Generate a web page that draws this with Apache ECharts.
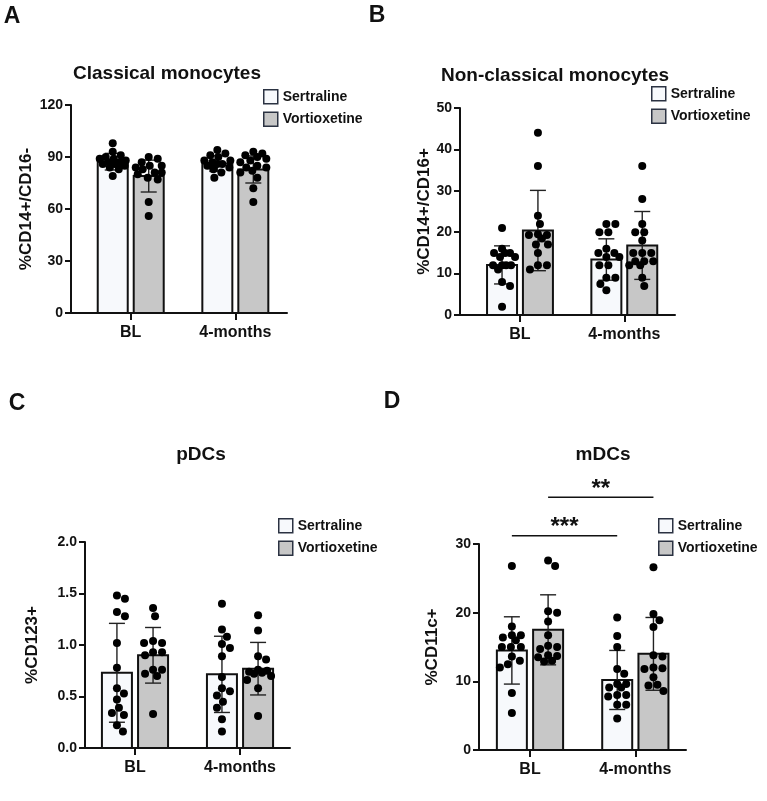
<!DOCTYPE html>
<html lang="en">
<head>
<meta charset="UTF-8">
<title>Monocytes and dendritic cells</title>
<style>
  html, body { margin: 0; padding: 0; background: #fff; }
  #chart { width: 767px; height: 801px; }
</style>
</head>
<body>
<div id="chart"></div>
<script src="https://cdn.jsdelivr.net/npm/echarts@6.0.0/dist/echarts.min.js"></script>
<script>
const categories = ['BL', '4-months'];
const groups = ['Sertraline', 'Vortioxetine'];

// A - classical monocytes
const classicalSertBL = [98, 93, 91, 90, 89, 89, 88, 87, 87, 86, 86, 85, 84, 83, 79];
const classicalSert4m = [94, 92, 91, 90, 88, 88, 87, 86, 86, 85, 84, 83, 81, 78];
const classicalVortBL = [90, 89, 87, 85, 85, 84, 83, 81, 81, 80, 78, 77, 64, 56];
const classicalVort4m = [93, 92, 91, 90, 89, 88, 87, 85, 84, 84, 82, 81, 78, 72, 64];
const classicalSertMean = [87.3, 86.2];
const classicalSertSD = [4.8, 4.5];
const classicalVortMean = [79.0, 82.8];
const classicalVortSD = [9.2, 7.8];

// B - non-classical monocytes
const nonClassicalSertBL = [21, 16, 15, 15, 15, 14, 14, 12, 12, 12, 12, 11, 8, 7, 2];
const nonClassicalSert4m = [22, 22, 20, 20, 16, 15, 15, 14, 14, 12, 12, 9, 9, 7.5, 6];
const nonClassicalVortBL = [44, 36, 24, 22, 19.5, 19.3, 19.3, 18.5, 17, 17, 15, 12, 12, 11];
const nonClassicalVort4m = [36, 28, 22, 20, 20, 18, 15, 15, 15, 13, 13, 13, 12, 12, 9, 7];
const nonClassicalSertMean = [12.1, 13.4];
const nonClassicalSertSD = [4.6, 5.0];
const nonClassicalVortMean = [20.4, 16.8];
const nonClassicalVortSD = [9.7, 8.2];

// C - pDCs
const pdcSertBL = [1.48, 1.45, 1.32, 1.28, 1.02, 0.78, 0.58, 0.53, 0.47, 0.39, 0.34, 0.32, 0.22, 0.16];
const pdcSert4m = [1.40, 1.15, 1.08, 1.01, 0.97, 0.89, 0.69, 0.58, 0.55, 0.51, 0.45, 0.39, 0.28, 0.16];
const pdcVortBL = [1.36, 1.28, 1.04, 1.02, 1.02, 0.93, 0.93, 0.90, 0.76, 0.76, 0.72, 0.70, 0.33];
const pdcVort4m = [1.29, 1.14, 0.89, 0.86, 0.76, 0.75, 0.74, 0.73, 0.72, 0.70, 0.66, 0.58, 0.31];
const pdcSertMean = [0.73, 0.715];
const pdcSertSD = [0.48, 0.37];
const pdcVortMean = [0.90, 0.77];
const pdcVortSD = [0.27, 0.255];

// D - mDCs
const mdcSertBL = [26.8, 18.0, 16.7, 16.7, 16.4, 16.0, 15.0, 15.0, 15.0, 13.6, 13.0, 12.5, 12.0, 8.3, 5.4];
const mdcSert4m = [19.3, 16.6, 15.0, 11.8, 11.1, 9.6, 9.6, 9.1, 9.1, 8.0, 8.0, 7.8, 6.6, 6.6, 4.6];
const mdcVortBL = [27.6, 26.8, 20.2, 20.0, 18.7, 16.7, 15.2, 15.0, 14.7, 13.8, 13.7, 13.5, 13.0, 12.9];
const mdcVort4m = [26.6, 19.8, 18.9, 17.9, 13.8, 13.6, 12.0, 11.9, 11.8, 10.6, 9.5, 9.4, 8.6];
const mdcSertMean = [14.5, 10.2];
const mdcSertSD = [4.9, 4.3];
const mdcVortMean = [17.5, 14.0];
const mdcVortSD = [5.1, 5.3];
// BL vs 4-months comparisons
const mdcSigGroup = ['Sertraline', 'Vortioxetine'];
const mdcSigLevel = [31.2, 36.8];
const mdcSigLabel = ['***', '**'];

const FONT = "'Liberation Sans', Arial, sans-serif";
const INK = '#111';
const FILLS = { Sertraline: '#f7f9fc', Vortioxetine: '#c7c7c7' };
const GROUP_OFFSET = { Sertraline: -0.172, Vortioxetine: 0.172 };
const DOT = 8;

const panels = [
  {
    letter: 'A', letterPos: [12, 17], title: 'Classical monocytes', titlePos: [167, 74],
    yName: '%CD14+/CD16-', yMax: 120, yStep: 30, decimals: 0, nameGap: 36,
    grid: { left: 71, top: 105, width: 216, height: 208 }, xMin: -0.571, xMax: 1.494,
    legend: [263, 89],
    dots: { Sertraline: [classicalSertBL, classicalSert4m], Vortioxetine: [classicalVortBL, classicalVort4m] },
    mean: { Sertraline: classicalSertMean, Vortioxetine: classicalVortMean },
    sd: { Sertraline: classicalSertSD, Vortioxetine: classicalVortSD }
  },
  {
    letter: 'B', letterPos: [377, 16], title: 'Non-classical monocytes', titlePos: [555, 76],
    yName: '%CD14+/CD16+', yMax: 50, yStep: 10, decimals: 0, nameGap: 26,
    grid: { left: 460, top: 108, width: 215, height: 207 }, xMin: -0.575, xMax: 1.486,
    legend: [651, 86],
    dots: { Sertraline: [nonClassicalSertBL, nonClassicalSert4m], Vortioxetine: [nonClassicalVortBL, nonClassicalVort4m] },
    mean: { Sertraline: nonClassicalSertMean, Vortioxetine: nonClassicalVortMean },
    sd: { Sertraline: nonClassicalSertSD, Vortioxetine: nonClassicalVortSD }
  },
  {
    letter: 'C', letterPos: [17, 404], title: 'pDCs', titlePos: [201, 455],
    yName: '%CD123+', yMax: 2, yStep: 0.5, decimals: 1, nameGap: 44,
    grid: { left: 85, top: 542, width: 205, height: 206 }, xMin: -0.476, xMax: 1.476,
    legend: [278, 518],
    dots: { Sertraline: [pdcSertBL, pdcSert4m], Vortioxetine: [pdcVortBL, pdcVort4m] },
    mean: { Sertraline: pdcSertMean, Vortioxetine: pdcVortMean },
    sd: { Sertraline: pdcSertSD, Vortioxetine: pdcVortSD }
  },
  {
    letter: 'D', letterPos: [392, 402], title: 'mDCs', titlePos: [603, 455],
    yName: '%CD11c+', yMax: 30, yStep: 10, decimals: 0, nameGap: 38,
    grid: { left: 479, top: 544, width: 207, height: 206 }, xMin: -0.484, xMax: 1.481,
    legend: [658, 518],
    dots: { Sertraline: [mdcSertBL, mdcSert4m], Vortioxetine: [mdcVortBL, mdcVort4m] },
    mean: { Sertraline: mdcSertMean, Vortioxetine: mdcVortMean },
    sd: { Sertraline: mdcSertSD, Vortioxetine: mdcVortSD },
    // line from the BL bar to the 4-months bar of the same drug
    sig: mdcSigGroup.map((g, k) => [GROUP_OFFSET[g], 1 + GROUP_OFFSET[g], mdcSigLevel[k]])
  }
];

// simple beeswarm: spread dots sideways so they don't pile up
function swarm(values, center, pxPerUnit, pxPerBand) {
  const placed = [];
  const maxOff = 13;
  return values.map(v => {
    const y = v * pxPerUnit;
    let pick = null, bestDx = 0, bestGap = -1;
    for (let k = 0; k <= maxOff * 2; k++) {
      const dx = (k % 2 ? 1 : -1) * Math.ceil(k / 2);
      const gap = placed.length ? Math.min(...placed.map(q => Math.hypot(q.x - dx, q.y - y))) : Infinity;
      if (gap >= DOT * 1.05) { pick = dx; break; }
      if (gap > bestGap) { bestGap = gap; bestDx = dx; }
    }
    if (pick === null) pick = bestDx;
    placed.push({ x: pick, y: y });
    return [center + pick / pxPerBand, v];
  });
}

function barItem(params, api) {
  const x = api.value(0), m = api.value(1);
  const top = api.coord([x, m]);
  const base = api.coord([x, 0]);
  return {
    type: 'rect',
    shape: { x: top[0] - 15, y: top[1], width: 30, height: base[1] - top[1] },
    style: { fill: api.visual('color'), stroke: INK, lineWidth: 2 }
  };
}

function errorItem(params, api) {
  const x = api.value(0), m = api.value(1), s = api.value(2);
  const hi = api.coord([x, m + s]);
  const lo = api.coord([x, m - s]);
  const st = { stroke: '#222', lineWidth: 1.4 };
  return {
    type: 'group',
    children: [
      { type: 'line', shape: { x1: hi[0], y1: hi[1], x2: lo[0], y2: lo[1] }, style: st },
      { type: 'line', shape: { x1: hi[0] - 8, y1: hi[1], x2: hi[0] + 8, y2: hi[1] }, style: st },
      { type: 'line', shape: { x1: lo[0] - 8, y1: lo[1], x2: lo[0] + 8, y2: lo[1] }, style: st }
    ]
  };
}

function sigItem(params, api) {
  const a = api.coord([api.value(0), api.value(2)]);
  const b = api.coord([api.value(1), api.value(2)]);
  return {
    type: 'group',
    children: [
      { type: 'line', shape: { x1: a[0], y1: a[1], x2: b[0], y2: b[1] }, style: { stroke: INK, lineWidth: 1.6 } },
      { type: 'text', x: (a[0] + b[0]) / 2, y: a[1] - 8,
        style: { text: mdcSigLabel[params.dataIndex], font: 'bold 24px ' + FONT, fill: INK, align: 'center', verticalAlign: 'middle' } }
    ]
  };
}

const option = {
  backgroundColor: '#fff',
  animation: false,
  grid: [], xAxis: [], yAxis: [], legend: [], series: [], graphic: []
};

panels.forEach((p, i) => {
  option.grid.push(Object.assign({ containLabel: false }, p.grid));
  option.xAxis.push({
    type: 'value', gridIndex: i, min: p.xMin, max: p.xMax,
    axisLine: { show: true, onZero: false, lineStyle: { color: INK, width: 2 } },
    axisTick: { show: true, customValues: [0, 1], length: 7, lineStyle: { color: INK, width: 2 } },
    axisLabel: { customValues: [0, 1], formatter: v => categories[Math.round(v)], margin: 12,
      color: INK, fontFamily: FONT, fontWeight: 'bold', fontSize: 16 },
    splitLine: { show: false }
  });
  option.yAxis.push({
    type: 'value', gridIndex: i, min: 0, max: p.yMax, interval: p.yStep,
    name: p.yName, nameLocation: 'middle', nameGap: p.nameGap,
    nameTextStyle: { color: INK, fontFamily: FONT, fontWeight: 'bold', fontSize: 17 },
    axisLine: { show: true, onZero: false, lineStyle: { color: INK, width: 2 } },
    axisTick: { show: true, length: 6, lineStyle: { color: INK, width: 2 } },
    axisLabel: { margin: 8, formatter: v => v.toFixed(p.decimals),
      color: INK, fontFamily: FONT, fontWeight: 'bold', fontSize: 14 },
    splitLine: { show: false }
  });
  option.legend.push({
    orient: 'vertical', left: p.legend[0], top: p.legend[1], padding: 0,
    itemWidth: 14, itemHeight: 14, itemGap: 7, icon: 'rect', selectedMode: false,
    textStyle: { color: INK, fontFamily: FONT, fontWeight: 'bold', fontSize: 14 },
    data: groups.map(g => ({ name: g, itemStyle: { color: FILLS[g], borderColor: '#2b3242', borderWidth: 1.5 } }))
  });

  const pxPerUnit = p.grid.height / p.yMax;
  const pxPerBand = p.grid.width / (p.xMax - p.xMin);

  groups.forEach(g => {
    const off = GROUP_OFFSET[g];
    option.series.push({
      type: 'custom', name: g, xAxisIndex: i, yAxisIndex: i, z: 2,
      itemStyle: { color: FILLS[g] },
      renderItem: barItem,
      data: categories.map((c, j) => [j + off, p.mean[g][j]])
    });
    option.series.push({
      type: 'custom', xAxisIndex: i, yAxisIndex: i, z: 3,
      renderItem: errorItem,
      encode: { x: 0, y: 1 },
      data: categories.map((c, j) => [j + off, p.mean[g][j], p.sd[g][j]])
    });
    categories.forEach((c, j) => {
      option.series.push({
        type: 'scatter', xAxisIndex: i, yAxisIndex: i, z: 4,
        symbol: 'circle', symbolSize: DOT, itemStyle: { color: '#000', opacity: 1 },
        data: swarm(p.dots[g][j], j + off, pxPerUnit, pxPerBand)
      });
    });
  });

  if (p.sig) {
    option.series.push({
      type: 'custom', xAxisIndex: i, yAxisIndex: i, z: 5, clip: false,
      renderItem: sigItem,
      encode: { x: [0, 1], y: 2 },
      data: p.sig
    });
  }

  option.graphic.push({
    type: 'text', x: p.titlePos[0], y: p.titlePos[1],
    style: { text: p.title, font: 'bold 19px ' + FONT, fill: INK, align: 'center', verticalAlign: 'middle' }
  });
  option.graphic.push({
    type: 'text', x: p.letterPos[0], y: p.letterPos[1],
    style: { text: p.letter, font: 'bold 23px ' + FONT, fill: INK, align: 'center', verticalAlign: 'middle' }
  });
});

const chart = echarts.init(document.getElementById('chart'));
chart.setOption(option);
</script>
</body>
</html>
